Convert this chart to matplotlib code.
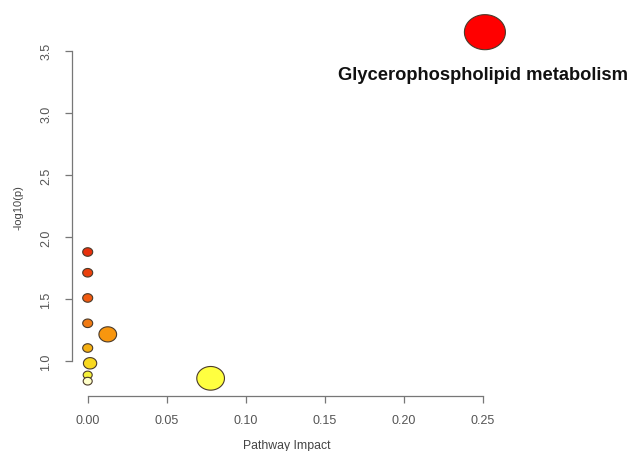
import numpy as np
import matplotlib
matplotlib.use("Agg")
import matplotlib.pyplot as plt
from matplotlib.path import Path

plt.rcParams["font.family"] = ["Liberation Sans", "DejaVu Sans"]

# pathway data
impact = [0.0, 0.0, 0.0, 0.0, 0.0127, 0.0, 0.0015, 0.0, 0.0, 0.0778, 0.2514]
neglogp = [1.88, 1.713, 1.51, 1.306, 1.217, 1.107, 0.984, 0.89, 0.84, 0.863, 3.65]
label_name = "Glycerophospholipid metabolism"

# styling
colors = ["#E8300C", "#EA400C", "#F05A10", "#F07A14", "#F8960E", "#F5B012",
          "#F8D820", "#F4F03A", "#FFFFC8", "#FFFF40", "#FF0000"]
widths_px = [10, 10, 10, 10, 17.7, 10, 13.3, 9, 9, 27.7, 41]
sizes = [(w * 0.72) ** 2 for w in widths_px]

# slightly stretched circle like in the source image
t = np.linspace(0, 2 * np.pi, 80)
ell = Path(np.column_stack([1.17 * np.cos(t), np.sin(t)]), closed=True)

fig = plt.figure(figsize=(6.34, 4.52), dpi=100)
ax = fig.add_axes([72 / 634, 1 - 397 / 452, (560 - 72) / 634, (397 - 20) / 452])

px_x, px_y = 1580.0, 124.2
ax.set_xlim((72 - 87.7) / px_x, (560 - 87.7) / px_x)
ax.set_ylim(1 - (397 - 362.3) / px_y, 1 + (362.3 - 20) / px_y)

ax.scatter(impact, neglogp, s=sizes, c=colors, marker=ell,
           edgecolors="#4a3a2a", linewidths=0.8, clip_on=False, zorder=3)

ax.text(impact[-1] - 0.001, neglogp[-1] - 0.34, label_name, ha="center", va="center",
        fontsize=13.2, fontweight="bold", color="#111111")

for s in ["top", "right"]:
    ax.spines[s].set_visible(False)
ax.spines["left"].set_bounds(1.0, 3.5)
ax.spines["bottom"].set_bounds(0.0, 0.25)
for s in ["left", "bottom"]:
    ax.spines[s].set_color("#777777")
    ax.spines[s].set_linewidth(0.9)

ax.set_xticks([0.0, 0.05, 0.10, 0.15, 0.20, 0.25])
ax.set_xticklabels(["0.00", "0.05", "0.10", "0.15", "0.20", "0.25"])
ax.set_yticks([1.0, 1.5, 2.0, 2.5, 3.0, 3.5])
ax.set_yticklabels(["1.0", "1.5", "2.0", "2.5", "3.0", "3.5"], rotation=90, va="center")
ax.tick_params(axis="both", length=5, width=0.9, color="#777777",
               labelcolor="#555555", labelsize=9)
ax.tick_params(axis="x", pad=8)
ax.tick_params(axis="y", pad=9)

ax.set_xlabel("Pathway Impact", fontsize=8.8, color="#444444")
ax.set_ylabel("-log10(p)", fontsize=8, color="#444444")
ax.xaxis.set_label_coords((287 - 72) / 488, -(446 - 397) / 377)
ax.yaxis.set_label_coords(-(72 - 18) / 488, (397 - 208) / 377)
ax.xaxis.label.set_va("center")
ax.yaxis.label.set_va("center")

fig.savefig("out.png", dpi=100)
